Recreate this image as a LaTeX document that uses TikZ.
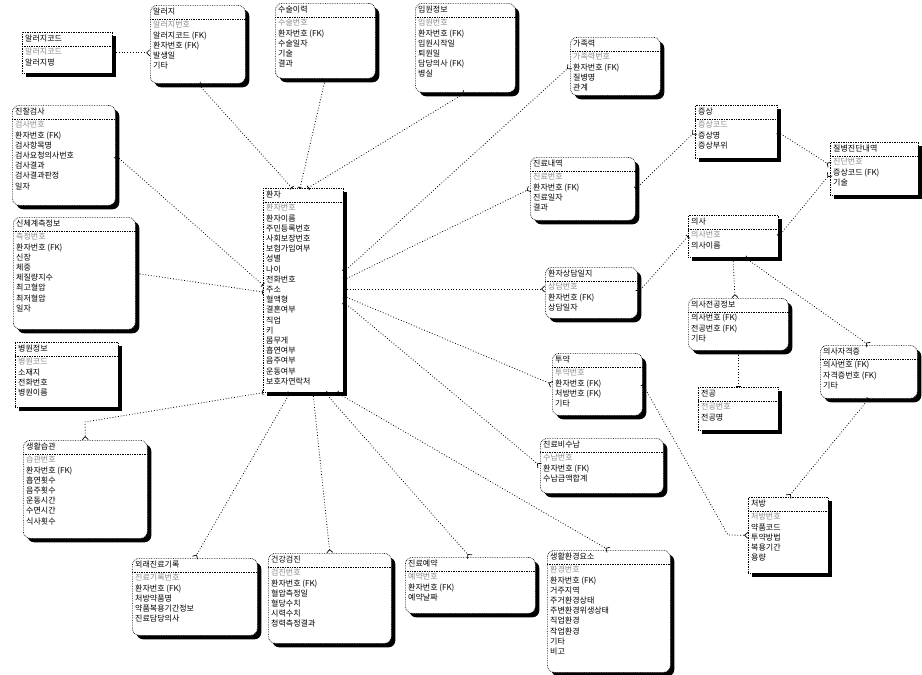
\documentclass[tikz,border=0pt]{standalone}
\usepackage{fontspec}
\newfontfamily\kr{Noto Sans CJK KR}
\usetikzlibrary{shadows,arrows.meta}
\newcommand\pkrow[1]{{\color{black!45}#1}}
\newcommand\erent[8]{%
  \node[ebox,#6,minimum width=#4pt,minimum height=#5pt,anchor=north west] (#1) at (#2,#3) {};
  \node[etext,anchor=north west] (#1-t) at ([xshift=3pt,yshift=-2.5pt]#1.north west) {#7};
  \draw[esep] ([yshift=-14pt]#1.north west) -- ([yshift=-14pt]#1.north east);
  \node[etext,anchor=north west] (#1-b) at ([xshift=3pt,yshift=-16pt]#1.north west) {#8};
}
\tikzset{
  ebox/.style={draw, densely dotted, line width=0.7pt, fill=white, inner sep=0pt,
    drop shadow={shadow xshift=4pt, shadow yshift=-4pt, opacity=1, fill=black}},
  soft/.style={rounded corners=7pt},
  hard/.style={rounded corners=0pt},
  etext/.style={inner sep=0pt, align=left, font=\kr\fontsize{8}{10.2}\selectfont},
  esep/.style={densely dotted, line width=0.7pt},
  rel/.style={dash pattern=on 0.8pt off 2pt, line width=0.8pt,
    {Bar[width=5pt,line width=0.7pt]}-{Straight Barb[reversed,length=3pt,width=6pt,line width=0.7pt]}},
}
\begin{document}
\begin{tikzpicture}[x=1pt,y=-1pt]
\fill[white] (0,0) rectangle (922,675);
\useasboundingbox (0,0) rectangle (922,675);

\erent{akc}{22}{32}{90}{41}{hard}{알러지코드}{\pkrow{알러지코드}\\알러지명}
\erent{alg}{150}{5}{95}{78}{soft}{알러지}{\pkrow{알러지번호}\\알러지코드 (FK)\\환자번호 (FK)\\발생일\\기타}
\erent{sur}{275}{3}{100}{75}{soft}{수술이력}{\pkrow{수술번호}\\환자번호 (FK)\\수술일자\\기술\\결과}
\erent{adm}{415}{3}{100}{89}{soft}{입원정보}{\pkrow{입원번호}\\환자번호 (FK)\\입원시작일\\퇴원일\\담당의사 (FK)\\병실}
\erent{fam}{570}{37}{90}{58}{soft}{가족력}{\pkrow{가족력번호}\\환자번호 (FK)\\질병명\\관계}
\erent{sym}{695}{105}{82}{53}{hard}{증상}{\pkrow{증상코드}\\증상명\\증상부위}
\erent{dx}{830}{142}{88}{53}{hard}{질병진단내역}{\pkrow{진단번호}\\증상코드 (FK)\\기술}
\erent{vis}{530}{157}{105}{63}{soft}{진료내역}{\pkrow{진료번호}\\환자번호 (FK)\\진료일자\\결과}
\erent{doc}{688}{215}{90}{42}{hard}{의사}{\pkrow{의사번호}\\의사이름}
\erent{con}{545}{267}{92}{51}{soft}{환자상담일지}{\pkrow{상담번호}\\환자번호 (FK)\\상담일자}
\erent{pat}{263}{188}{80}{204}{hard}{환자}{\pkrow{환자번호}\\환자이름\\주민등록번호\\사회보장번호\\보험가입여부\\성별\\나이\\전화번호\\주소\\혈액형\\결혼여부\\직업\\키\\몸무게\\흡연여부\\음주여부\\운동여부\\보호자연락처}
\erent{exm}{12}{105}{103}{100}{soft}{진찰검사}{\pkrow{검사번호}\\환자번호 (FK)\\검사항목명\\검사요청의사번호\\검사결과\\검사결과판정\\일자}
\erent{bod}{13}{217}{122}{112}{soft}{신체계측정보}{\pkrow{측정번호}\\환자번호 (FK)\\신장\\체중\\체질량지수\\최고혈압\\최저혈압\\일자}
\erent{hos}{15}{342}{103}{65}{hard}{병원정보}{\pkrow{병원코드}\\소재지\\전화번호\\병원이름}
\erent{hab}{23}{440}{124}{98}{soft}{생활습관}{\pkrow{습관번호}\\환자번호 (FK)\\흡연횟수\\음주횟수\\운동시간\\수면시간\\식사횟수}
\erent{opd}{132}{558}{125}{77}{soft}{외래진료기록}{\pkrow{진료기록번호}\\환자번호 (FK)\\처방약품명\\약품복용기간정보\\진료담당의사}
\erent{chk}{268}{553}{123}{90}{soft}{건강검진}{\pkrow{검진번호}\\환자번호 (FK)\\혈압측정일\\혈당수치\\시력수치\\청력측정결과}
\erent{rsv}{405}{557}{130}{56}{soft}{진료예약}{\pkrow{예약번호}\\환자번호 (FK)\\예약날짜}
\erent{env}{547}{550}{123}{122}{soft}{생활환경요소}{\pkrow{환경번호}\\환자번호 (FK)\\거주지역\\주거환경상태\\주변환경위생상태\\직업환경\\작업환경\\기타\\비고}
\erent{med}{552}{353}{90}{62}{soft}{투약}{\pkrow{투약번호}\\환자번호 (FK)\\처방번호 (FK)\\기타}
\erent{pay}{540}{438}{123}{55}{soft}{진료비수납}{\pkrow{수납번호}\\환자번호 (FK)\\수납금액합계}
\erent{dmj}{688}{298}{100}{52}{soft}{의사전공정보}{의사번호 (FK)\\전공번호 (FK)\\기타}
\erent{maj}{698}{387}{80}{43}{hard}{전공}{\pkrow{전공번호}\\전공명}
\erent{dlc}{820}{345}{97}{53}{soft}{의사자격증}{의사번호 (FK)\\자격증번호 (FK)\\기타}
\erent{rx}{748}{497}{80}{76}{hard}{처방}{\pkrow{처방번호}\\약품코드\\투약방법\\복용기간\\용량}

\coordinate (hb) at (85,422);
\coordinate (k1) at (728,535);

\draw[rel] (akc.east) -- (alg.west |- akc.east);
\draw[rel] (pat.north -| 292,0) -- (alg.south);
\draw[rel] (pat.north -| 300,0) -- (sur.south);
\draw[rel] (pat.north -| 308,0) -- (adm.south);
\draw[rel] (pat.east |- 0,272) -- (fam.west);
\draw[rel] (pat.east |- 0,280) -- (vis.west);
\draw[rel] (pat.east |- 0,289) -- (con.west |- 0,289);
\draw[rel] (pat.east |- 0,296) -- (med.west);
\draw[rel] (pat.east |- 0,302) -- (pay.west);
\draw[rel] (pat.south -| 337,0) -- (env.north);
\draw[rel] (pat.south -| 325,0) -- (rsv.north -| 470,0);
\draw[rel] (pat.south -| 313,0) -- (chk.north);
\draw[rel] (pat.south -| 290,0) -- (opd.north);
\draw[rel] (pat.south west) -- (hb) -- (hab.north);
\draw[rel] (pat.west |- 0,285) -- (exm.east);
\draw[rel] (pat.west |- 0,292) -- (bod.east);
\draw[rel] (vis.east) -- (sym.west);
\draw[rel] (sym.east) -- (dx.west |- 0,165);
\draw[rel] (doc.east) -- (dx.west |- 0,174);
\draw[rel] (doc.west) -- (con.east);
\draw[rel] (doc.south -| 733,0) -- (dmj.north -| 735,0);
\draw[rel] (doc.south -| 745,0) -- (dlc.north);
\draw[rel] (maj.north) -- (dmj.south -| maj.north);
\draw[rel] (dlc.south) -- (rx.north);
\draw[rel] (med.east) -- (k1) -- (rx.west);
\end{tikzpicture}
\end{document}
